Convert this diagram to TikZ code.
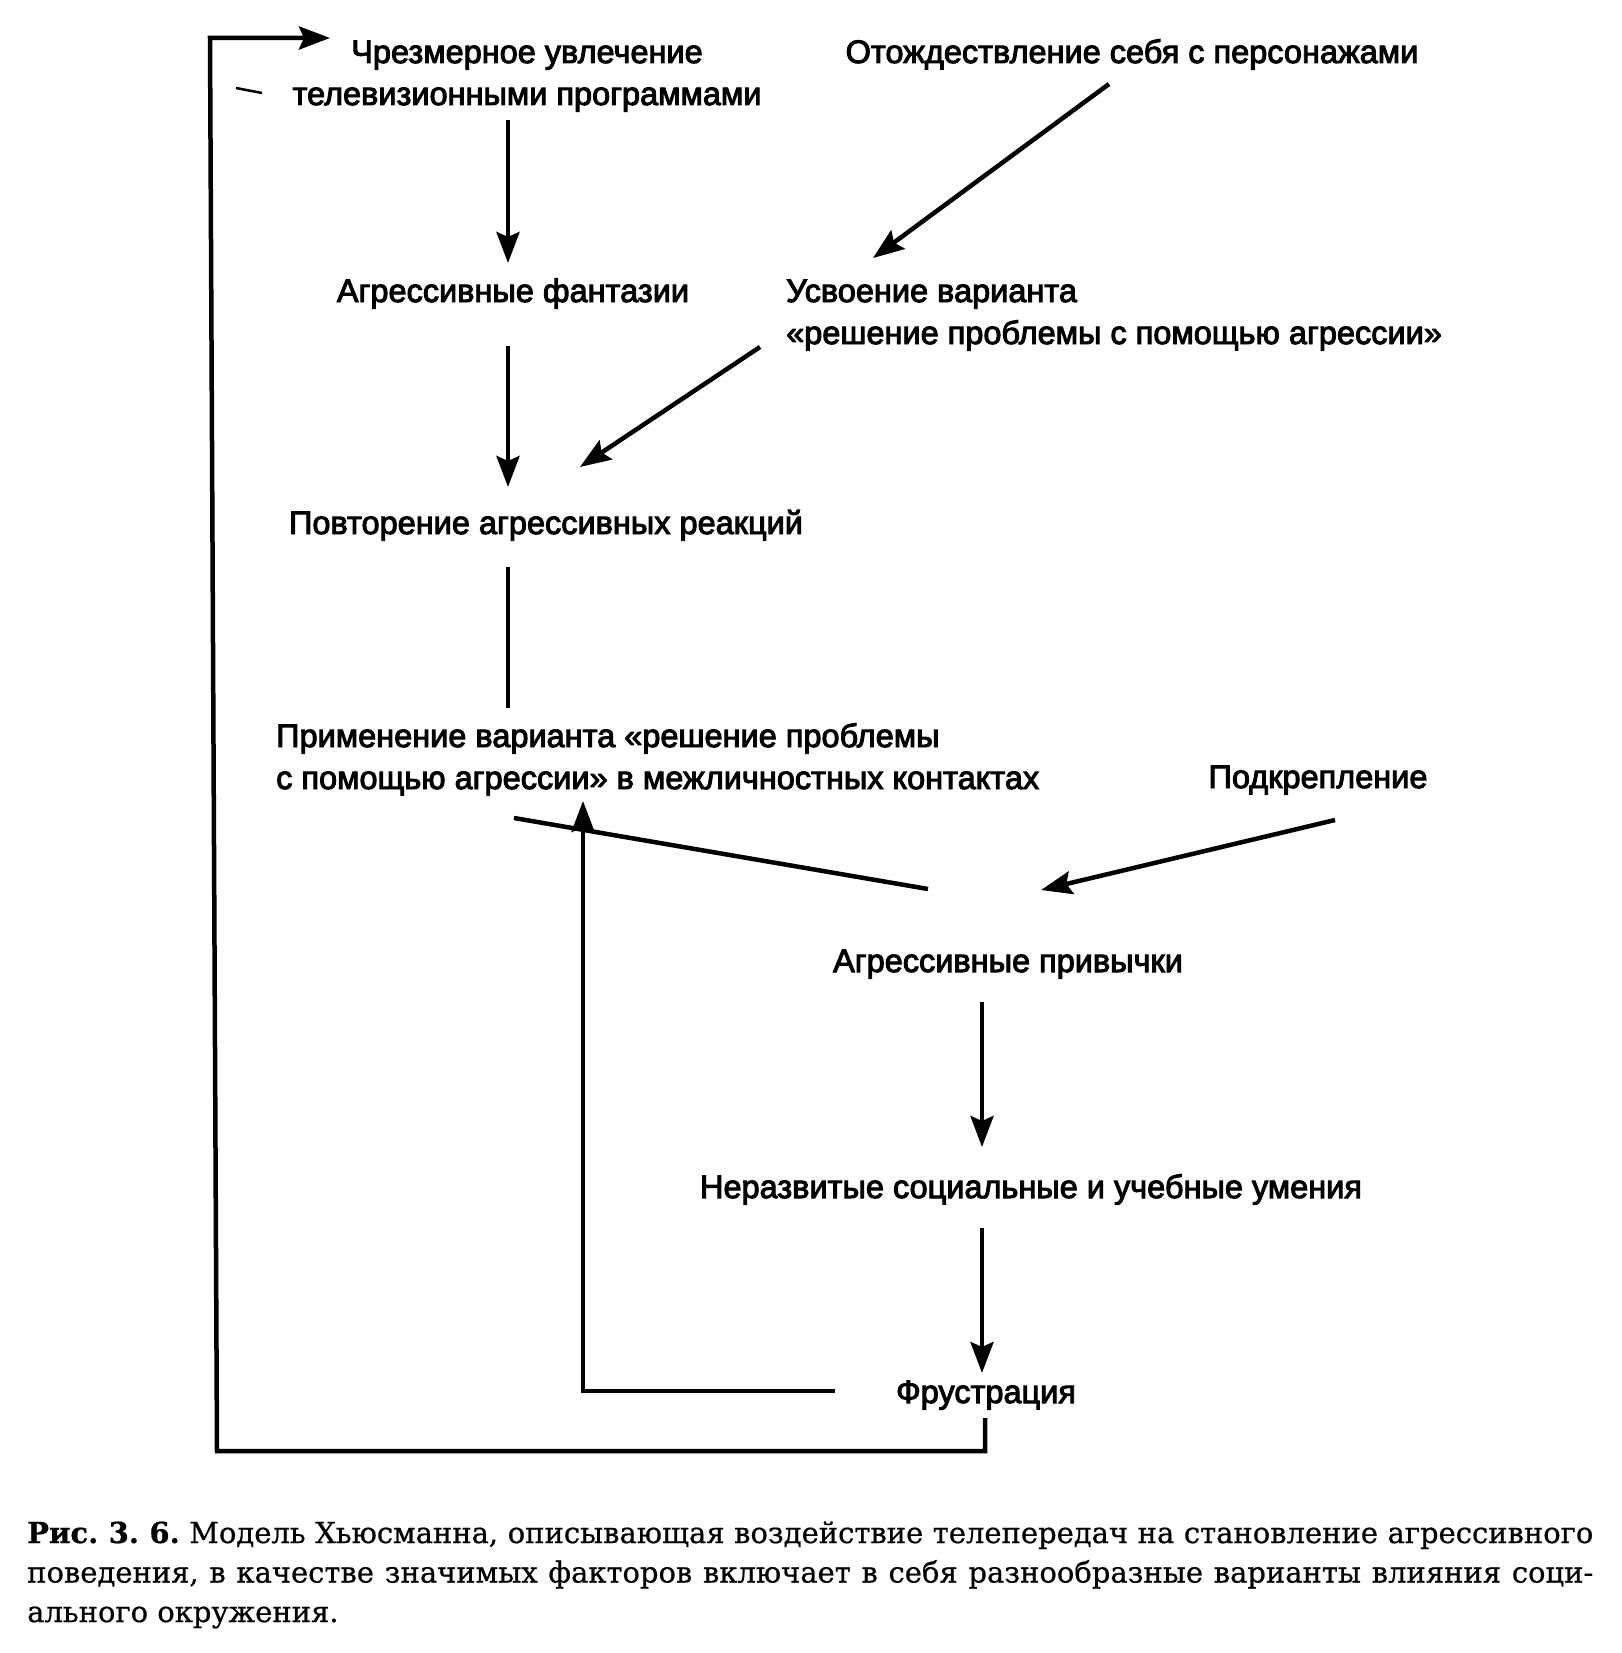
\documentclass[tikz,border=0pt]{standalone}
\usepackage{fontspec}
\setmainfont{DejaVu Serif}[FakeBold=0.6]
\newfontfamily\dg{Liberation Sans}[FakeBold=3]
\usetikzlibrary{arrows.meta}
\begin{document}
\begin{tikzpicture}[x=1pt,y=-1pt,
  lbl/.style={font=\dg\fontsize{32.5}{42}\selectfont, inner sep=0pt, anchor=base},
  ln/.style={line width=4.5pt},
  arr/.style={ln,-{Stealth[length=31pt,width=23pt,inset=5pt]}}]
\useasboundingbox[fill=white] (0,0) rectangle (1621,1653);

% texts
\node[lbl] (tv) at (527,63) {\begin{tabular}[t]{@{}c@{}}Чрезмерное увлечение\\телевизионными программами\end{tabular}};
\node[lbl] (ident) at (1132,63) {Отождествление себя с персонажами};
\node[lbl] (fant) at (513,302) {Агрессивные фантазии};
\node[lbl,anchor=base west] (usv) at (786,302) {\begin{tabular}[t]{@{}l@{}}Усвоение варианта\\«решение проблемы с помощью агрессии»\end{tabular}};
\node[lbl] (povt) at (546,534) {Повторение агрессивных реакций};
\node[lbl,anchor=base west] (prim) at (276,747) {\begin{tabular}[t]{@{}l@{}}Применение варианта «решение проблемы\\с помощью агрессии» в межличностных контактах\end{tabular}};
\node[lbl] (podk) at (1318,788) {Подкрепление};
\node[lbl] (priv) at (1008,972) {Агрессивные привычки};
\node[lbl] (nerazv) at (1031,1198) {Неразвитые социальные и учебные умения};
\node[lbl] (frus) at (986,1403) {Фрустрация};

\node[anchor=base west, inner sep=0pt] (cap) at (27,1543) {\parbox[t]{1566pt}{\frenchspacing\fontsize{29}{39.5}\selectfont\textbf{Рис. 3. 6.} Модель Хьюсманна, описывающая воздействие телепередач на становление агрессивного\linebreak поведения, в качестве значимых факторов включает в себя разнообразные варианты влияния соци-\linebreak ального окружения.}};

% endpoints
\coordinate (a1) at (508,120);  \coordinate (a2) at (508,263);
\coordinate (b1) at (1109,84);  \coordinate (b2) at (873,258);
\coordinate (c1) at (508,346);  \coordinate (c2) at (508,487);
\coordinate (d1) at (760,347);  \coordinate (d2) at (580,467);
\coordinate (e1) at (508,567);  \coordinate (e2) at (508,708);
\coordinate (f1) at (514,818);  \coordinate (f2) at (928,889);
\coordinate (g1) at (1335,820); \coordinate (g2) at (1041,890);
\coordinate (h1) at (982,1002); \coordinate (h2) at (982,1147);
\coordinate (i1) at (982,1228); \coordinate (i2) at (982,1373);
\coordinate (j1) at (835,1391); \coordinate (j2) at (583,801);
\coordinate (k1) at (985,1418); \coordinate (k2) at (210,38); \coordinate (k3) at (330,38);

% connectors
\draw[arr] (a1) -- (a2);
\draw[arr] (b1) -- (b2);
\draw[arr] (c1) -- (c2);
\draw[arr] (d1) -- (d2);
\draw[ln] (e1) -- (e2);
\draw[ln] (f1) -- (f2);
\draw[arr] (g1) -- (g2);
\draw[arr] (h1) -- (h2);
\draw[arr] (i1) -- (i2);
\draw[arr] (j1) -- (583,1391) -- (j2);
\draw[arr] (k1) -- (985,1451) -- (217,1451) -- (k2) -- (k3);
\draw[line width=2.5pt] (236,88) -- (262,93);
\end{tikzpicture}
\end{document}
